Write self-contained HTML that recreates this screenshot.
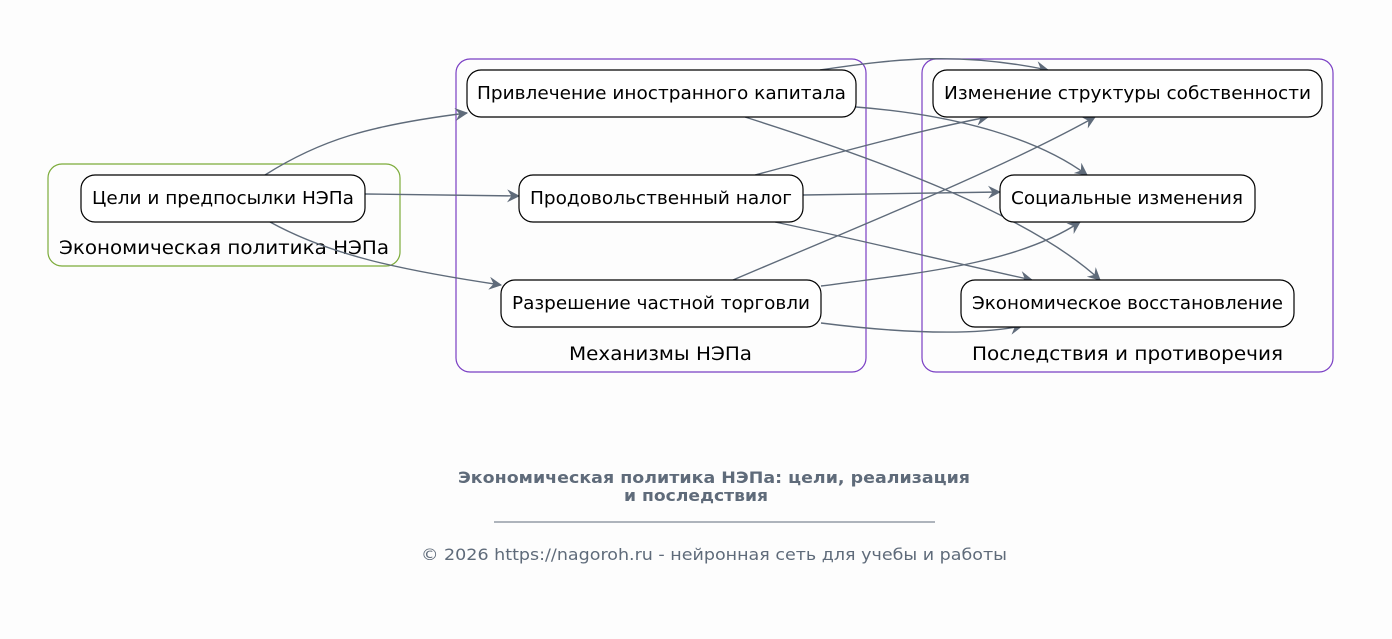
<!DOCTYPE html>
<html><head><meta charset="utf-8"><style>
html,body{margin:0;padding:0;background:#fdfdfd;}
svg{display:block;font-family:"DejaVu Sans","Liberation Sans",sans-serif;}
</style></head><body>
<svg width="1392" height="639" viewBox="0 0 1392 639" xmlns="http://www.w3.org/2000/svg">
<defs>
<marker id="a" viewBox="0 0 12 12" refX="11" refY="6" markerWidth="13" markerHeight="13" markerUnits="userSpaceOnUse" orient="auto">
<path d="M0,0 L12,6 L0,12 L4,6 Z" fill="#5f6b7a"/>
</marker>
</defs>
<rect x="0" y="0" width="1392" height="639" fill="#fdfdfd"/>
<!-- clusters -->
<rect x="48" y="164" width="352" height="102" rx="14" fill="none" stroke="#7cab3a" stroke-width="1.2"/>
<text x="59" y="254" font-size="19" textLength="330" lengthAdjust="spacingAndGlyphs" fill="#000">Экономическая политика НЭПа</text>
<rect x="456" y="59" width="410" height="313" rx="14" fill="none" stroke="#7a3fc4" stroke-width="1.2"/>
<text x="569" y="360" font-size="19" textLength="183" lengthAdjust="spacingAndGlyphs" fill="#000">Механизмы НЭПа</text>
<rect x="922" y="59" width="411" height="313" rx="14" fill="none" stroke="#7a3fc4" stroke-width="1.2"/>
<text x="972" y="360" font-size="19" textLength="311" lengthAdjust="spacingAndGlyphs" fill="#000">Последствия и противоречия</text>
<!-- edges -->
<g fill="none" stroke="#5f6b7a" stroke-width="1.4" marker-end="url(#a)">
<path d="M265,175 C320,140 370,125 467,113"/>
<path d="M365,194 L519,196"/>
<path d="M270,222 C330,255 400,270 501,285"/>
<path d="M820,70 C900,58 960,52 1048,70"/>
<path d="M856,107 C960,115 1040,140 1087,175"/>
<path d="M745,117 C880,160 1030,215 1100,280"/>
<path d="M755,175 C830,155 920,130 988,117"/>
<path d="M803,195 L1000,192"/>
<path d="M775,222 C860,240 950,262 1032,280"/>
<path d="M733,280 C850,230 1000,170 1095,117"/>
<path d="M821,286 C930,272 1020,262 1080,222"/>
<path d="M821,323 C900,333 970,336 1022,326"/>
</g>
<!-- nodes -->
<g fill="#fff" stroke="#000" stroke-width="1.2">
<rect x="81" y="175" width="284" height="47" rx="14"/>
<rect x="467" y="70" width="389" height="47" rx="14"/>
<rect x="519" y="175" width="284" height="47" rx="14"/>
<rect x="501" y="280" width="320" height="47" rx="14"/>
<rect x="933" y="70" width="389" height="47" rx="14"/>
<rect x="1000" y="175" width="255" height="47" rx="14"/>
<rect x="961" y="280" width="333" height="47" rx="14"/>
</g>
<g font-size="17.5" fill="#000" lengthAdjust="spacingAndGlyphs">
<text x="92" y="204" textLength="262" lengthAdjust="spacingAndGlyphs">Цели и предпосылки НЭПа</text>
<text x="477" y="99" textLength="369" lengthAdjust="spacingAndGlyphs">Привлечение иностранного капитала</text>
<text x="530" y="204" textLength="262" lengthAdjust="spacingAndGlyphs">Продовольственный налог</text>
<text x="512" y="309" textLength="298" lengthAdjust="spacingAndGlyphs">Разрешение частной торговли</text>
<text x="944" y="99" textLength="367" lengthAdjust="spacingAndGlyphs">Изменение структуры собственности</text>
<text x="1011" y="204" textLength="232" lengthAdjust="spacingAndGlyphs">Социальные изменения</text>
<text x="972" y="309" textLength="311" lengthAdjust="spacingAndGlyphs">Экономическое восстановление</text>
</g>
<!-- footer -->
<g fill="#5f6b7a">
<text x="458" y="483" font-size="16" font-weight="bold" textLength="512" lengthAdjust="spacingAndGlyphs">Экономическая политика НЭПа: цели, реализация</text>
<text x="624" y="501" font-size="16" font-weight="bold" textLength="144" lengthAdjust="spacingAndGlyphs">и последствия</text>
<line x1="494" y1="522" x2="935" y2="522" stroke="#5f6b7a" stroke-width="1"/>
<text x="421" y="560" font-size="16" textLength="586" lengthAdjust="spacingAndGlyphs">© 2026 https://nagoroh.ru - нейронная сеть для учебы и работы</text>
</g>
</svg>
</body></html>
